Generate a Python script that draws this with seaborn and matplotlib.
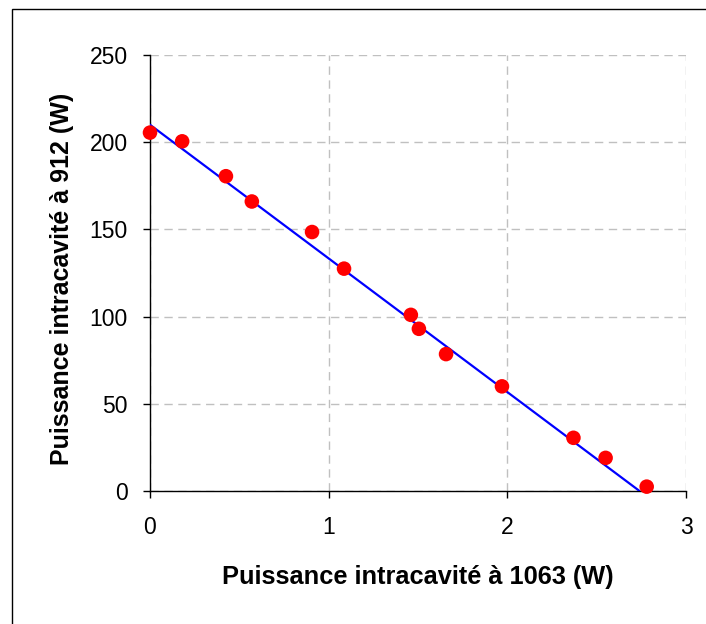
import matplotlib
matplotlib.use("Agg")
import matplotlib.pyplot as plt
import seaborn as sns
import pandas as pd
from matplotlib.patches import Rectangle

# Data
p1063 = [0.0, 0.18, 0.425, 0.57, 0.907, 1.086, 1.46, 1.505, 1.657, 1.97, 2.37, 2.55, 2.78]
p912 = [205.5, 200.5, 180.5, 166.0, 148.5, 127.5, 101.0, 93.0, 78.5, 60.0, 30.5, 19.0, 2.5]
fit_x = [0.0, 2.74]
fit_y = [210.0, 0.0]

x_ticks = [0, 1, 2, 3]
y_ticks = [0, 50, 100, 150, 200, 250]

sns.set_theme(style="white")
plt.rcParams['font.family'] = ['Liberation Sans', 'DejaVu Sans']
plt.rcParams['text.color'] = 'black'
plt.rcParams['axes.labelcolor'] = 'black'

fig = plt.figure(figsize=(7.06, 6.24), dpi=100)
ax = fig.add_axes([150/706, 1-491/624, 536/706, 436/624])

pts = pd.DataFrame({"x": p1063, "y": p912})
fit = pd.DataFrame({"x": fit_x, "y": fit_y})

sns.lineplot(data=fit, x="x", y="y", ax=ax, color="#0000ff", linewidth=1.6, zorder=3)
sns.scatterplot(data=pts, x="x", y="y", ax=ax, color="#ff0000", s=110, edgecolor="none", zorder=4, clip_on=False)

ax.set_xlim(0, 3)
ax.set_ylim(0, 250)
ax.set_xticks(x_ticks)
ax.set_yticks(y_ticks)
ax.grid(True, color="#c0c0c0", linestyle=(0, (6, 4)), linewidth=1.0)
ax.set_axisbelow(True)
for s in ["top", "right"]:
    ax.spines[s].set_visible(False)
for s in ["left", "bottom"]:
    ax.spines[s].set_color("black")
    ax.spines[s].set_linewidth(1.0)
ax.tick_params(axis="both", direction="out", length=5, width=1, color="black",
               labelsize=16.5, labelcolor="black", bottom=True, left=True)
ax.tick_params(axis="x", pad=13)
ax.tick_params(axis="y", pad=11)

ax.set_xlabel("Puissance intracavité à 1063 (W)", fontsize=18.3, fontweight="bold", labelpad=19, color="black")
ax.set_ylabel("Puissance intracavité à 912 (W)", fontsize=18, fontweight="bold", labelpad=11, color="black")
ax.yaxis.label.set_y(0.487)

fig.patches.append(Rectangle((12/706, -0.1), 1.2, 1 - 9/624 + 0.1, transform=fig.transFigure,
                             fill=False, edgecolor="black", linewidth=1.0))

fig.savefig("out.png", dpi=100)
